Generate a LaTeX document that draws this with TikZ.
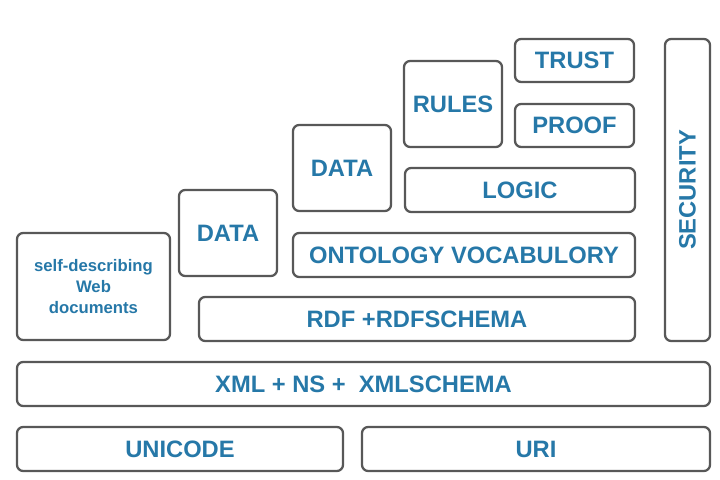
\documentclass[tikz,border=0pt]{standalone}
\usepackage{fontspec}
\setmainfont{Liberation Sans}
\usepackage{xcolor}
\usepackage{tikz}
\usetikzlibrary{positioning}
\definecolor{layertext}{RGB}{38,120,168}
\definecolor{layerline}{RGB}{88,88,88}

\begin{document}
\begin{tikzpicture}[
  layer/.style={rectangle, rounded corners=3.5pt, draw=layerline, line width=1.3pt,
                fill=white, inner sep=0pt, text=layertext,
                font=\fontsize{13.5}{16}\selectfont\bfseries},
  smalllayer/.style={layer, align=center,
                font=\fontsize{9.5}{12.2}\selectfont\bfseries}
]
\useasboundingbox (0,0) rectangle (14.4,9.58);
% Bottom row
\node[layer, minimum width=6.52cm, minimum height=0.88cm] (uni) at (3.60,0.60) {UNICODE};
\node[layer, minimum width=6.96cm, minimum height=0.88cm] (uri) at (10.72,0.60) {URI};
\node[layer, minimum width=13.86cm, minimum height=0.88cm] (xml) at (7.27,1.90) {XML + NS + \ XMLSCHEMA};
% Left steps
\node[smalllayer, minimum width=3.06cm, minimum height=2.14cm] (selfdoc) at (1.87,3.85) {self-describing\\Web\\documents};
\node[layer, minimum width=8.72cm, minimum height=0.88cm] (rdf) at (8.34,3.20) {RDF +RDFSCHEMA};
\node[layer, minimum width=1.96cm, minimum height=1.72cm] (data1) at (4.56,4.92) {DATA};
\node[layer, minimum width=6.84cm, minimum height=0.88cm] (onto) at (9.28,4.48) {ONTOLOGY VOCABULORY};
\node[layer, minimum width=1.96cm, minimum height=1.72cm] (data2) at (6.84,6.22) {DATA};
\node[layer, minimum width=4.60cm, minimum height=0.88cm] (logic) at (10.40,5.78) {LOGIC};
% Top
\node[layer, minimum width=1.96cm, minimum height=1.72cm] (rules) at (9.06,7.50) {RULES};
\node[layer, minimum width=2.38cm, minimum height=0.86cm] (proof) at (11.49,7.07) {PROOF};
\node[layer, minimum width=2.38cm, minimum height=0.86cm] (trust) at (11.49,8.37) {TRUST};
% Side column
\node[layer, rotate=90, minimum width=6.04cm, minimum height=0.90cm] (security) at (13.75,5.78) {SECURITY};
\end{tikzpicture}
\end{document}
